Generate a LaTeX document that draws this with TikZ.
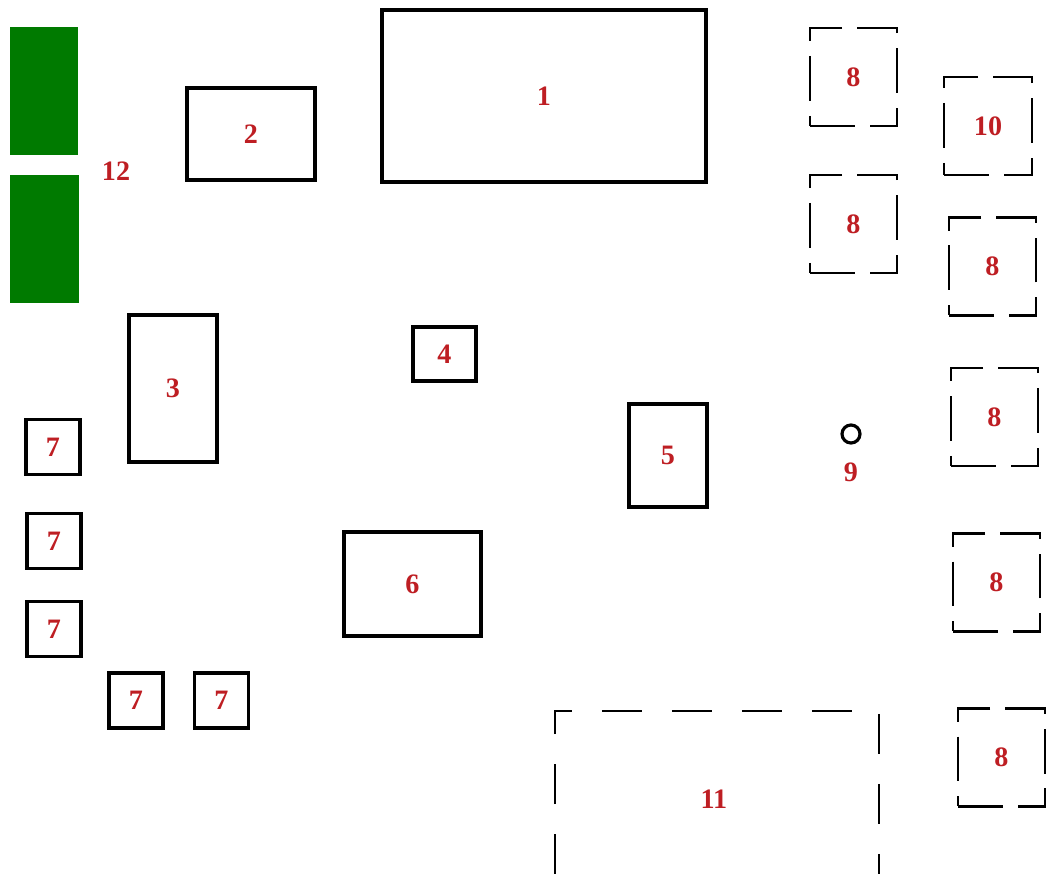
\documentclass[tikz,border=0pt]{standalone}
\usepackage{fontspec}
\setmainfont{Liberation Serif}
\usetikzlibrary{positioning}
\definecolor{labelred}{RGB}{190,30,35}
\definecolor{padgreen}{RGB}{0,122,0}

\begin{document}
\begin{tikzpicture}[x=0.02cm, y=-0.02cm,
    lbl/.style={text=labelred, font=\fontsize{16}{18}\selectfont\bfseries},
    part/.style={draw, line width=2pt, lbl},
    slot/.style={draw, line width=1.5pt, dash pattern=on 0.9cm off 0.3cm, lbl,
      minimum width=1.74cm, minimum height=1.96cm},
    pad/.style={fill=padgreen, minimum width=1.37cm, minimum height=2.56cm}]
  \useasboundingbox (0,0) rectangle (1048,874);
  % fixed parts, solid outline
  \node[part, minimum width=6.48cm, minimum height=3.44cm] (p1) at (544,96) {1};
  \node[part, minimum width=2.56cm, minimum height=1.84cm] (p2) at (251,134) {2};
  \node[part, minimum width=1.76cm, minimum height=2.94cm] (p3) at (173,388.5) {3};
  \node[part, minimum width=1.26cm, minimum height=1.08cm] (p4) at (444.5,354) {4};
  \node[part, minimum width=1.56cm, minimum height=2.06cm] (p5) at (668,455.5) {5};
  \node[part, minimum width=2.74cm, minimum height=2.08cm] (p6) at (412.5,584) {6};
  % small parts along the left edge
  \foreach \i/\x/\y in {a/53/447, b/54/541, c/54/629, d/136/700.5, e/221.5/700.5}
    \node[part, minimum width=1.08cm, minimum height=1.1cm] (p7\i) at (\x,\y) {7};
  % dashed slots on the right
  \foreach \i/\x/\y in {a/853.5/77, b/853.5/224, c/992.5/266.5, d/994.5/417,
      e/996.5/582.5, f/1001.5/757.5}
    \node[slot] (s8\i) at (\x,\y) {8};
  \node[slot, minimum width=1.76cm] (s10) at (988,126) {10};
  % pin
  \node[draw, circle, line width=1.8pt, minimum size=0.36cm, inner sep=0pt] (pin) at (851,434) {};
  \node[lbl] (l9) at (851,472) {9};
  % open dashed zone at the bottom
  \coordinate (z11a) at (555,874);
  \coordinate (z11b) at (555,711);
  \coordinate (z11c) at (879,711);
  \coordinate (z11d) at (879,874);
  \draw[line width=1pt, dash pattern=on 0.8cm off 0.6cm] (z11a) -- (z11b) -- (z11c) -- (z11d);
  \node[lbl] (l11) at (714,799) {11};
  % green pads
  \node[pad] (g12a) at (44,91) {};
  \node[pad] (g12b) at (44.5,239) {};
  \node[lbl] (l12) at (116,171) {12};
\end{tikzpicture}
\end{document}
